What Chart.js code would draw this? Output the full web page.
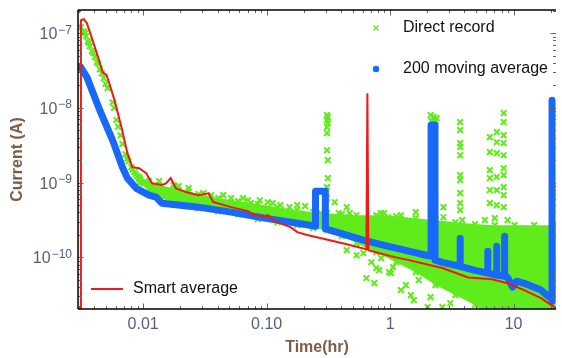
<!DOCTYPE html>
<html><head><meta charset="utf-8">
<script src="https://cdn.jsdelivr.net/npm/chart.js@4.4.1/dist/chart.umd.min.js"></script>
<style>html,body{margin:0;padding:0;background:#fff;overflow:hidden}</style>
</head><body>
<canvas id="c" width="562" height="358"></canvas>
<script>
// ---- data (time in hours, current in amperes) ----
const xTickValues = [0.01, 0.1, 1, 10];
const xTickLabels = ['0.01', '0.10', '1', '10'];
const yTickValues = [1e-7, 1e-8, 1e-9, 1e-10];
const yTickExps = ['\u22127', '\u22128', '\u22129', '\u221210'];
const seriesLabels = ['Direct record', '200 moving average', 'Smart average'];

const redT = [0.00308, 0.00313, 0.00331, 0.0035, 0.0037, 0.00421, 0.0047, 0.00506, 0.00586, 0.00667, 0.00745, 0.00817, 0.00929, 0.01057, 0.0118, 0.0142, 0.0153, 0.0167, 0.0184, 0.0221, 0.028, 0.0337, 0.037, 0.0515, 0.0705, 0.080, 0.0964, 0.102, 0.116, 0.156, 0.177, 0.213, 0.325, 0.445, 0.643, 0.655, 0.667, 0.879, 1.117, 1.419, 2.65, 4.29, 6.67, 8.95, 12.2, 16.7, 22.0];
const redI = [1e-11, 1.49e-7, 1.54e-7, 1.36e-7, 1.03e-7, 5.4e-8, 3.0e-8, 2.74e-8, 1.27e-8, 5.5e-9, 2.48e-9, 1.61e-9, 1.56e-9, 1.34e-9, 9.8e-10, 9.3e-10, 9.8e-10, 1.15e-9, 8.4e-10, 7.5e-10, 6.8e-10, 7.2e-10, 5.5e-10, 4.7e-10, 4.16e-10, 3.67e-10, 3.56e-10, 3.67e-10, 3.05e-10, 2.54e-10, 2.18e-10, 1.99e-10, 1.70e-10, 1.50e-10, 1.29e-10, 1.57e-8, 1.25e-10, 1.10e-10, 1.0e-10, 9.2e-11, 7.2e-11, 5.4e-11, 5.1e-11, 4.5e-11, 3.65e-11, 2.85e-11, 2.1e-11];

const blueT = [0.00308, 0.0035, 0.00445, 0.00565, 0.00679, 0.00745, 0.00879, 0.01117, 0.0127, 0.0142, 0.028, 0.0515, 0.0964, 0.177, 0.238, 0.249, 0.249, 0.299, 0.299, 0.325, 0.608, 0.879, 1.117, 1.419, 2.0, 2.148, 2.148, 2.312, 2.312, 2.655, 3.698, 3.698, 3.698, 4.875, 6.19, 6.19, 6.19, 7.31, 7.31, 7.31, 8.47, 8.47, 8.47, 8.954, 9.82, 10.57, 12.2, 16.7, 19.4, 20.51, 20.51, 20.51];
const blueI = [3.6e-8, 2.58e-8, 9.3e-9, 3.7e-9, 1.61e-9, 1.15e-9, 8.4e-10, 6.8e-10, 6.4e-10, 5.3e-10, 4.7e-10, 4.03e-10, 3.35e-10, 2.87e-10, 2.65e-10, 2.62e-10, 7.7e-10, 7.7e-10, 2.42e-10, 2.32e-10, 1.70e-10, 1.46e-10, 1.33e-10, 1.21e-10, 1.06e-10, 1.04e-10, 5.9e-9, 5.9e-9, 9.2e-11, 8.6e-11, 7.6e-11, 1.81e-10, 7.6e-11, 6.7e-11, 6.15e-11, 1.21e-10, 6.15e-11, 5.8e-11, 1.41e-10, 5.8e-11, 5.6e-11, 1.92e-10, 5.6e-11, 5.4e-11, 4.0e-11, 4.8e-11, 4.5e-11, 3.65e-11, 2.94e-11, 2.9e-11, 1.27e-8, 2.6e-11];

const greenT = [0.00313, 0.00331, 0.00344, 0.00356, 0.0037, 0.00384, 0.00406, 0.00421, 0.00445, 0.00479, 0.00515, 0.00565, 0.00608, 0.00655, 0.00679, 0.00718, 0.00759, 0.00802, 0.00847, 0.00895, 0.00946, 0.0102,
  0.00338, 0.00362, 0.00395, 0.00432, 0.00462, 0.00495, 0.0058, 0.00625, 0.0074, 0.0082, 0.0087, 0.0092,
  0.01343, 0.0177, 0.0233, 0.0356, 0.0515, 0.0705, 0.0745, 0.1019, 0.1294, 0.153, 0.177,
  0.0194, 0.0308, 0.0445, 0.0643, 0.0879, 0.1117, 0.205,
  0.308, 0.313, 0.308, 0.313, 0.308, 0.308, 0.308, 0.313, 0.313, 0.308, 0.308,
  0.256, 0.275,
  0.356, 0.384, 0.445, 0.470, 0.802, 0.847, 0.879, 0.895, 0.964, 1.057,
  0.445, 0.608, 0.643, 0.705, 0.773, 0.817, 0.847, 0.817, 0.982, 1.019, 1.057, 1.343, 1.472, 1.706, 2.128, 2.014, 2.655, 3.076, 3.837,
  0.535, 0.745, 1.225, 1.556,
  1.225, 1.614, 2.704, 2.704, 3.837, 5.861, 7.047, 8.954,
  2.128, 2.249, 2.377, 2.168, 2.333,
  3.698, 3.698, 3.698, 3.698, 3.698, 3.698, 3.698, 3.698, 3.698, 3.698,
  6.427, 6.427, 6.427, 6.427, 6.427, 6.427,
  7.311, 7.311, 7.311, 7.311, 7.311, 7.311,
  8.318, 8.318, 8.318, 8.318, 8.318, 8.318, 8.318, 8.318, 8.318, 8.318];
const greenI = [1.2e-7, 1.06e-7, 9.1e-8, 7.8e-8, 6.7e-8, 5.7e-8, 4.8e-8, 4.1e-8, 3.3e-8, 2.5e-8, 1.84e-8, 1.19e-8, 6.9e-9, 4.3e-9, 3.3e-9, 2.4e-9, 1.94e-9, 1.61e-9, 1.38e-9, 1.22e-9, 1.11e-9, 9.8e-10,
  1.0e-7, 7.4e-8, 5.4e-8, 3.9e-8, 2.9e-8, 2.1e-8, 1.0e-8, 5.6e-9, 2.1e-9, 1.5e-9, 1.3e-9, 1.15e-9,
  1.05e-9, 9.27e-10, 8.44e-10, 6.81e-10, 6.21e-10, 5.83e-10, 5.32e-10, 5.48e-10, 5.0e-10, 4.7e-10, 5.0e-10,
  8.98e-10, 7.24e-10, 6.81e-10, 6.21e-10, 5.83e-10, 5.32e-10, 4.85e-10,
  8.0e-9, 7.52e-9, 6.86e-9, 6.25e-9, 5.52e-9, 4.59e-9, 2.72e-9, 2.0e-9, 1.15e-9, 8.71e-10, 6.21e-10,
  3.67e-10, 3.91e-10,
  5.48e-10, 3.91e-10, 4.7e-10, 3.91e-10, 3.15e-10, 3.91e-10, 2.96e-10, 3.91e-10, 3.45e-10, 2.54e-10,
  1.25e-10, 1.14e-10, 5.27e-11, 8.63e-11, 7.18e-11, 1.87e-10, 9.77e-11, 6.75e-11, 6.35e-11, 6.15e-11, 7.41e-11, 4.26e-11, 3.13e-11, 4.96e-11, 2.94e-11, 2.16e-11, 2.16e-11, 2.44e-11, 4.96e-11,
  1.07e-10, 4.53e-11, 3.65e-11, 2.68e-11,
  3.67e-10, 4.03e-10, 4.7e-10, 3.45e-10, 3.15e-10, 3.15e-10, 3.35e-10, 3.15e-10,
  8.0e-9, 7.52e-9, 7.3e-9, 6.65e-9, 6.65e-9,
  6.45e-9, 5.04e-9, 3.38e-9, 2.99e-9, 2.33e-9, 1.26e-9, 1.08e-9, 7.24e-10, 5.32e-10, 4.29e-10,
  4.06e-9, 2.56e-9, 1.47e-9, 1.15e-9, 7.94e-10, 5.32e-10,
  4.74e-9, 3.48e-9, 2.48e-9, 1.19e-9, 7.94e-10, 5.0e-10,
  8.51e-9, 6.45e-9, 4.32e-9, 3.38e-9, 2.33e-9, 1.56e-9, 1.26e-9, 8.71e-10, 6.81e-10, 4.7e-10];

// dense part of the direct record: upper and lower edge of the cloud
const bandT = [0.00929, 0.01117, 0.01343, 0.0177, 0.0233, 0.0281, 0.0406, 0.0586, 0.0847, 0.1225, 0.177, 0.238, 0.308, 0.406, 0.535, 0.773, 1.117, 1.614, 2.333, 3.373, 4.875, 7.047, 10.19, 14.72, 22.0];
const bandHi = [1.19e-9, 1.05e-9, 9.27e-10, 8.44e-10, 7.69e-10, 7.02e-10, 6.21e-10, 5.66e-10, 5.16e-10, 4.7e-10, 4.29e-10, 4.03e-10, 3.91e-10, 3.79e-10, 3.67e-10, 3.67e-10, 3.56e-10, 3.35e-10, 3.15e-10, 2.96e-10, 2.79e-10, 2.7e-10, 2.7e-10, 2.7e-10, 2.7e-10];
const bandLo = [9.85e-10, 7.94e-10, 6.21e-10, 5.48e-10, 5.0e-10, 4.56e-10, 4.16e-10, 3.79e-10, 3.25e-10, 2.96e-10, 2.7e-10, 2.46e-10, 2.32e-10, 1.92e-10, 1.55e-10, 1.17e-10, 8.63e-11, 6.35e-11, 4.26e-11, 3.13e-11, 2.3e-11, 1.5e-11, 1.5e-11, 1.5e-11, 1.5e-11];

// ---- styling ----
const GREEN = 'rgb(96,236,28)';
const BLUE = 'rgb(24,104,250)';
const RED = 'rgb(242,24,24)';
const TICK_COLOR = '#56607a';
const TITLE_COLOR = '#7e5c48';
const FONT = '"Liberation Sans", Arial, sans-serif';

const pts = (xs, ys) => xs.map((x, i) => ({x: x, y: ys[i]}));

const framePlugin = {
  id: 'frameTicks',
  afterDatasetsDraw(chart) {
    const {ctx, chartArea: a, scales: {x, y}} = chart;
    ctx.save();
    const seg = (x1, y1, x2, y2) => { ctx.beginPath(); ctx.moveTo(x1, y1); ctx.lineTo(x2, y2); ctx.stroke(); };
    ctx.strokeStyle = '#666'; ctx.lineWidth = 1;
    for (let d = -3; d <= 1; d++) for (let m = 1; m <= 9; m++) {
      const v = m * Math.pow(10, d);
      if (v < x.min || v > x.max) continue;
      const px = Math.round(x.getPixelForValue(v)) + 0.5;
      const len = m === 1 ? 5.5 : 3;
      seg(px, a.bottom, px, a.bottom - len);
      seg(px, a.top, px, a.top + len);
    }
    for (let d = -12; d <= -7; d++) for (let m = 1; m <= 9; m++) {
      const v = m * Math.pow(10, d);
      if (v < y.min || v > y.max) continue;
      const py = Math.round(y.getPixelForValue(v)) + 0.5;
      const len = m === 1 ? 5.5 : 3;
      seg(a.left, py, a.left + len, py);
      seg(a.right, py, a.right - len, py);
    }
    ctx.strokeStyle = '#000'; ctx.lineWidth = 1.5;
    seg(a.left, a.bottom, a.left, a.top);
    seg(a.left, a.top, a.right, a.top);
    seg(a.left, a.bottom, a.right, a.bottom);
    // y tick labels: 10 with superscript exponent
    ctx.fillStyle = TICK_COLOR;
    ctx.textBaseline = 'alphabetic';
    ctx.textAlign = 'left';
    yTickValues.forEach((v, i) => {
      const py = y.getPixelForValue(v);
      ctx.font = '16px ' + FONT;
      const w1 = ctx.measureText('10').width;
      ctx.font = '12px ' + FONT;
      const w2 = ctx.measureText(yTickExps[i]).width;
      const x0 = 72 - w1 - w2 - 1;
      ctx.font = '16px ' + FONT;
      ctx.fillText('10', x0, py + 6);
      ctx.font = '12px ' + FONT;
      ctx.fillText(yTickExps[i], x0 + w1 + 1, py + 0.5);
    });
    // legend
    ctx.font = '16px ' + FONT;
    ctx.fillStyle = '#111';
    ctx.textBaseline = 'middle';
    ctx.fillText(seriesLabels[0], 403, 28);
    ctx.fillText(seriesLabels[1], 403, 69);
    ctx.fillText(seriesLabels[2], 133, 289);
    ctx.strokeStyle = GREEN; ctx.lineWidth = 1.3;
    seg(373.5, 25.5, 378.5, 30.5); seg(373.5, 30.5, 378.5, 25.5);
    ctx.fillStyle = BLUE;
    ctx.beginPath(); ctx.arc(376, 69, 3.2, 0, Math.PI * 2); ctx.fill();
    ctx.strokeStyle = RED; ctx.lineWidth = 2;
    seg(91, 289, 123, 289);
    ctx.restore();
  }
};

new Chart(document.getElementById('c'), {
  type: 'scatter',
  data: {
    datasets: [
      {label: seriesLabels[2], data: pts(redT, redI), showLine: true, borderColor: RED, borderWidth: 2, pointRadius: 0, order: 0, tension: 0},
      {label: seriesLabels[1], data: pts(blueT, blueI), showLine: true, borderColor: BLUE, borderWidth: 7, pointRadius: 0, order: 1, borderCapStyle: 'round', borderJoinStyle: 'round'},
      {label: seriesLabels[0], data: pts(greenT, greenI), showLine: false, pointStyle: 'crossRot', pointRadius: 4, borderColor: GREEN, borderWidth: 2, order: 2},
      {label: 'band hi', data: pts(bandT, bandHi), showLine: true, borderWidth: 0, borderColor: GREEN, backgroundColor: GREEN, fill: '+1', pointStyle: 'crossRot', pointRadius: 4, pointBorderWidth: 2, pointBorderColor: GREEN, order: 3},
      {label: 'band lo', data: pts(bandT, bandLo), showLine: true, borderWidth: 0, borderColor: GREEN, pointStyle: 'crossRot', pointRadius: 4, pointBorderWidth: 2, pointBorderColor: GREEN, order: 4}
    ]
  },
  options: {
    responsive: false,
    devicePixelRatio: 1,
    animation: false,
    events: [],
    layout: {padding: {left: 0, right: 0, top: 10, bottom: 0}},
    plugins: {legend: {display: false}, tooltip: {enabled: false}},
    scales: {
      x: {
        type: 'logarithmic', min: 0.002965, max: 22.08,
        grid: {display: false, drawTicks: false}, border: {display: false},
        afterBuildTicks: (s) => { s.ticks = xTickValues.map(v => ({value: v})); },
        afterFit: (s) => { s.height = 49; },
        ticks: {autoSkip: false, maxRotation: 0, padding: 6, color: TICK_COLOR, font: {family: FONT, size: 16},
          callback: (v, i) => xTickLabels[i]},
        title: {display: true, text: 'Time(hr)', color: TITLE_COLOR, font: {family: FONT, size: 16, weight: 'bold'}, padding: {top: 0, bottom: 1}}
      },
      y: {
        type: 'logarithmic', min: 2.04e-11, max: 2.04e-7,
        grid: {display: false, drawTicks: false}, border: {display: false},
        ticks: {display: false},
        afterFit: (s) => { s.width = 78; },
        title: {display: true, text: 'Current (A)', color: TITLE_COLOR, font: {family: FONT, size: 16, weight: 'bold'}, padding: {top: 8, bottom: 0}}
      }
    }
  },
  plugins: [framePlugin]
});
</script>
</body></html>
